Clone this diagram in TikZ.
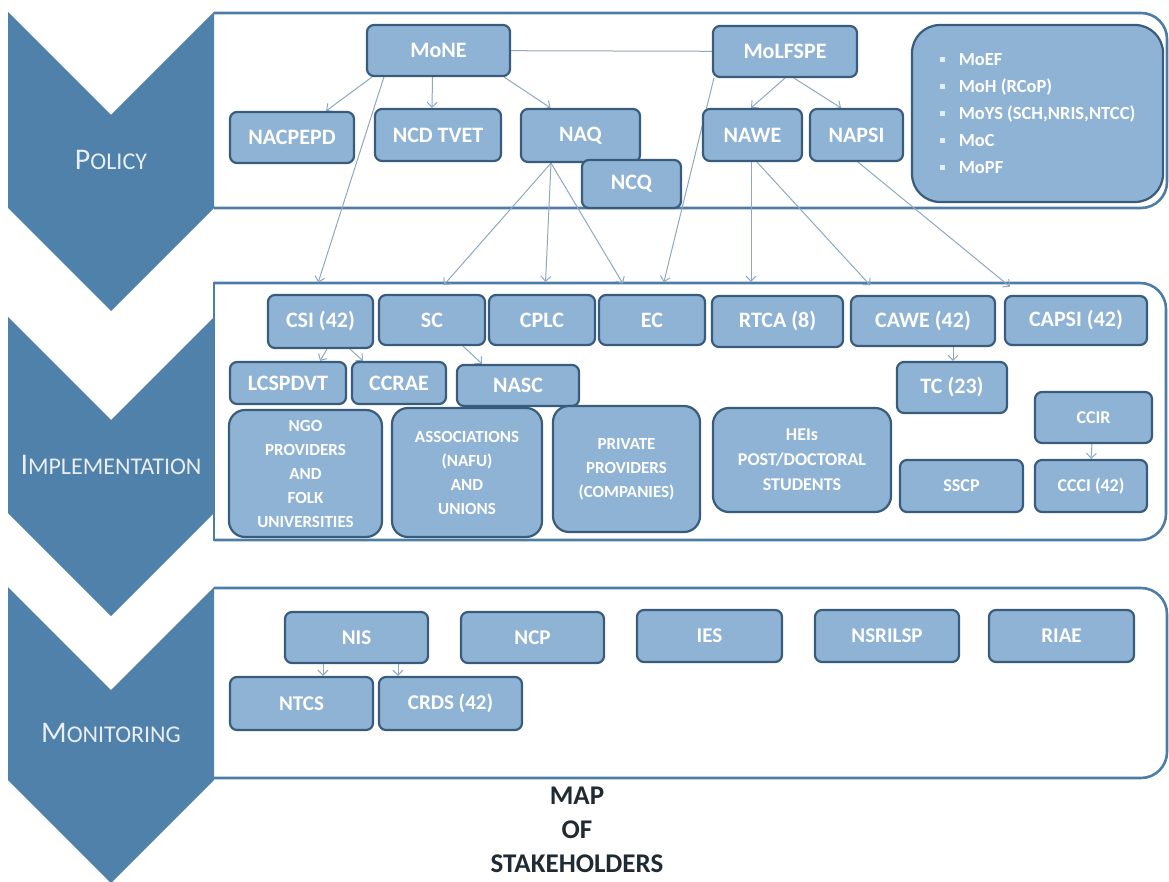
\documentclass[tikz,border=0pt]{standalone}
\usepackage{fontspec}
\setmainfont{Carlito}
\usetikzlibrary{shapes.geometric, arrows, arrows.meta, positioning, backgrounds}

\definecolor{chevronc}{HTML}{4F81AA}
\definecolor{panelc}{HTML}{4D7DA7}
\definecolor{boxfill}{HTML}{8FB3D5}
\definecolor{boxline}{HTML}{3A5C7C}
\definecolor{linkc}{HTML}{8EA8BF}
\definecolor{stagec}{HTML}{E8EEF4}
\definecolor{titlec}{HTML}{1F2A33}
\definecolor{bulletc}{HTML}{E4ECF4}

\tikzstyle{arrow} = [draw=linkc, line width=1pt, -{Straight Barb[length=5pt,width=10pt]}]
\tikzstyle{link} = [draw=linkc, line width=1pt]
\tikzstyle{org} = [rectangle, rounded corners=7pt, draw=boxline, line width=2.2pt, fill=boxfill, text=white, inner sep=0pt, align=center, font=\bfseries\fontsize{22}{24}\selectfont]
\tikzstyle{orgsmall} = [org, font=\bfseries\fontsize{18}{25}\selectfont]
\tikzstyle{orgmon} = [org, font=\bfseries\fontsize{21}{24}\selectfont]
\tikzstyle{orgbig} = [org, rounded corners=16pt, font=\bfseries\fontsize{17}{24}\selectfont]
\tikzstyle{panel} = [draw=panelc, line width=2.6pt, rounded corners=26pt]
\tikzstyle{stage} = [text=stagec, inner sep=0pt]

\newcommand{\stagecaps}[2]{{\fontsize{30}{30}\selectfont #1}{\fontsize{24}{24}\selectfont #2}}
\newcommand{\listmark}{\textcolor{bulletc}{\raisebox{3pt}{\rule{5pt}{5pt}}}\hspace{14pt}}

\begin{document}
\begin{tikzpicture}[x=1pt, y=-1pt]

\useasboundingbox (0,0) rectangle (1169,882);

% Chevrons
\fill[chevronc] (8,12) -- (111,115) -- (214,12) -- (214,208) -- (111,311) -- (8,208) -- cycle;
\fill[chevronc] (8,317) -- (111,420) -- (214,317) -- (214,513) -- (111,616) -- (8,513) -- cycle;
\fill[chevronc] (8,587) -- (111,690) -- (214,587) -- (214,780) -- (111,883) -- (8,780) -- cycle;

\node (policy) [stage] at (111,160) {\stagecaps{P}{OLICY}};
\node (implementation) [stage] at (111,465) {\stagecaps{I}{MPLEMENTATION}};
\node (monitoring) [stage] at (111,733) {\stagecaps{M}{ONITORING}};

% Policy
\node (mone) [org, minimum width=143pt, minimum height=51pt] at (438.5,50.5) {MoNE};
\node (molfspe) [org, minimum width=144pt, minimum height=51pt] at (785,51.5) {MoLFSPE};
\node (nacpepd) [org, minimum width=124pt, minimum height=51pt] at (292,137.5) {NACPEPD};
\node (ncdtvet) [org, minimum width=126pt, minimum height=52pt] at (438,135) {NCD TVET};
\node (naq) [org, minimum width=119pt, minimum height=53pt] at (580.5,135.5) {NAQ};
\node (ncq) [org, minimum width=99pt, minimum height=48pt] at (631.5,184) {NCQ};
\node (nawe) [org, minimum width=99pt, minimum height=52pt] at (752.5,135) {NAWE};
\node (napsi) [org, minimum width=93pt, minimum height=52pt] at (856.5,135) {NAPSI};
\node (ministries) [org, rounded corners=28pt, minimum width=251pt, minimum height=177pt, align=left, font=\bfseries\fontsize{18.5}{27}\selectfont] at (1037.5,113.5)
  {\listmark MoEF\\ \listmark MoH (RCoP)\\ \listmark MoYS (SCH,NRIS,NTCC)\\ \listmark MoC\\ \listmark MoPF};

% Implementation
\node (csi) [org, minimum width=105pt, minimum height=53pt] at (320.5,321.5) {CSI (42)};
\node (sc) [org, minimum width=106pt, minimum height=50pt] at (432,320) {SC};
\node (cplc) [org, minimum width=106pt, minimum height=50pt] at (542,320) {CPLC};
\node (ec) [org, minimum width=106pt, minimum height=50pt] at (652,320) {EC};
\node (rtca) [org, minimum width=131pt, minimum height=51pt] at (777.5,321.5) {RTCA (8)};
\node (cawe) [org, minimum width=144pt, minimum height=50pt] at (923,321) {CAWE (42)};
\node (capsi) [org, minimum width=142pt, minimum height=49pt] at (1076,320.5) {CAPSI (42)};
\node (lcspdvt) [org, minimum width=116pt, minimum height=42pt] at (288,383) {LCSPDVT};
\node (ccrae) [org, minimum width=94pt, minimum height=42pt] at (399,383) {CCRAE};
\node (nasc) [org, minimum width=122pt, minimum height=41pt] at (518,385.5) {NASC};
\node (tc) [org, minimum width=110pt, minimum height=51pt] at (952,387.5) {TC (23)};
\node (ngo) [orgbig, minimum width=153pt, minimum height=127pt] at (305.5,473.5) {NGO\\PROVIDERS\\AND\\FOLK\\UNIVERSITIES};
\node (assoc) [orgbig, minimum width=150pt, minimum height=129pt] at (467,472.5) {ASSOCIATIONS\\(NAFU)\\AND\\UNIONS};
\node (private) [orgbig, minimum width=147pt, minimum height=126pt] at (626.5,469) {PRIVATE\\PROVIDERS\\(COMPANIES)};
\node (heis) [orgbig, minimum width=178pt, minimum height=104pt, font=\bfseries\fontsize{18}{25}\selectfont] at (802,460) {HEIs\\POST/DOCTORAL\\STUDENTS};
\node (sscp) [orgsmall, minimum width=123pt, minimum height=52pt] at (961.5,486) {SSCP};
\node (ccir) [orgsmall, minimum width=117pt, minimum height=51pt] at (1093.5,417.5) {CCIR};
\node (ccci) [orgsmall, minimum width=112pt, minimum height=52pt] at (1091,486) {CCCI (42)};

% Monitoring
\node (nis) [orgmon, minimum width=143pt, minimum height=51pt] at (356.5,637.5) {NIS};
\node (ncp) [orgmon, minimum width=143pt, minimum height=51pt] at (532.5,637.5) {NCP};
\node (ies) [orgmon, minimum width=145pt, minimum height=52pt] at (709.5,636) {IES};
\node (nsrilsp) [orgmon, minimum width=144pt, minimum height=52pt] at (887,636) {NSRILSP};
\node (riae) [orgmon, minimum width=145pt, minimum height=52pt] at (1061.5,636) {RIAE};
\node (ntcs) [orgmon, minimum width=143pt, minimum height=53pt] at (301.5,703.5) {NTCS};
\node (crds) [orgmon, minimum width=143pt, minimum height=53pt] at (450.5,703.5) {CRDS (42)};

% Title
\node (title) [text=titlec, align=center, font=\bfseries\fontsize{27}{34}\selectfont] at (577,830) {MAP\\OF\\STAKEHOLDERS};

\begin{scope}[on background layer]
% Panels
\draw[panel] (214,13) -- (1167,13) -- (1167,208) -- (214,208);
\draw[panel] (214,283) -- (1166,283) -- (1166,540) -- (214,540);
\draw[panel, line cap=rect] (214,283) -- (214,540);
\draw[panel] (214,588) -- (1167,588) -- (1167,778) -- (214,778);

% Policy links
\draw[link] (mone) -- (molfspe);
\draw[arrow] ([xshift=6pt]mone.south west) -- ([xshift=-29pt]nacpepd.north east);
\draw[arrow] ([xshift=-6pt]mone.south) -- ([xshift=-6pt]ncdtvet.north);
\draw[arrow] ([xshift=-7pt]mone.south east) -- ([xshift=-30pt]naq.north);
\draw[arrow] (molfspe.south) -- ([xshift=-1.5pt]nawe.north);
\draw[arrow] ([xshift=9pt]molfspe.south) -- ([xshift=-15.5pt]napsi.north);

% Policy to implementation
\draw[arrow, shorten >=12pt] ([xshift=18pt]mone.south west) -- ([xshift=-6pt]csi.north);
\draw[arrow, shorten >=12pt] ([xshift=2pt]molfspe.south west) -- ([xshift=9pt]ec.north);
\draw[arrow, shorten >=12pt] ([xshift=-29.5pt]naq.south) -- ([xshift=4pt]sc.north);
\draw[arrow, shorten >=12pt] ([xshift=-29.5pt]naq.south) -- ([xshift=3pt]cplc.north);
\draw[arrow, shorten >=12pt] ([xshift=-29.5pt]naq.south) -- ([xshift=-23pt]ec.north);
\draw[arrow, shorten >=13pt] ([xshift=-1.5pt]nawe.south) -- ([xshift=-26.5pt]rtca.north);
\draw[arrow, shorten >=13pt] ([xshift=4.5pt]nawe.south) -- ([xshift=-44pt]cawe.north);
\draw[arrow, shorten >=13pt] ([xshift=1.5pt]napsi.south) -- ([xshift=-56pt]capsi.north);

% Implementation links
\draw[arrow] ([xshift=6.5pt]csi.south) -- ([xshift=32pt]lcspdvt.north);
\draw[arrow] ([xshift=29.5pt]csi.south) -- ([xshift=-36pt]ccrae.north);
\draw[arrow] ([xshift=31pt]sc.south) -- ([xshift=-36pt]nasc.north);
\draw[arrow] ([xshift=30pt]cawe.south) -- ([xshift=1pt]tc.north);
\draw[arrow] ([xshift=-1.5pt]ccir.south) -- (ccci.north);

% Monitoring links
\draw[arrow] ([xshift=-33.5pt]nis.south) -- ([xshift=21.5pt]ntcs.north);
\draw[arrow] ([xshift=41.5pt]nis.south) -- ([xshift=-52.5pt]crds.north);
\end{scope}

\end{tikzpicture}
\end{document}
